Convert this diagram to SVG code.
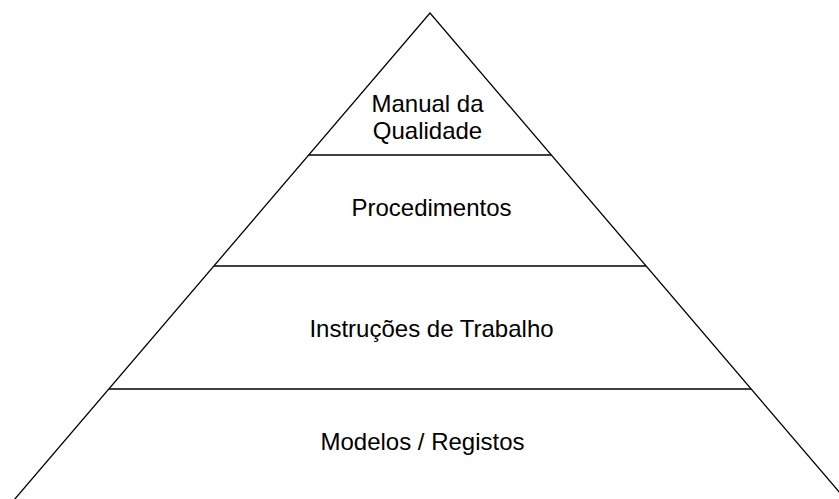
<svg xmlns="http://www.w3.org/2000/svg" width="839" height="499" viewBox="0 0 839 499">
<style>
.ln{stroke:#000;stroke-width:1.3;fill:none}
.t{font-family:"Liberation Sans",Arial,sans-serif;font-size:24px;fill:#000;text-anchor:middle}
</style>
<rect width="839" height="499" fill="#fff"/>
<g id="connectors">
<polyline class="ln" points="14,500 430,13 846,500"/>
<line class="ln" x1="309" y1="155" x2="551" y2="155"/>
<line class="ln" x1="214" y1="266" x2="646" y2="266"/>
<line class="ln" x1="109" y1="389" x2="751" y2="389"/>
</g>
<g id="manual"><text class="t" x="427.5" y="112">Manual da</text><text class="t" x="427.5" y="138.5">Qualidade</text></g>
<g id="procedimentos"><text class="t" x="431.5" y="216">Procedimentos</text></g>
<g id="instrucoes"><text class="t" x="431.5" y="337">Instruções de Trabalho</text></g>
<g id="modelos"><text class="t" x="422.5" y="449.5">Modelos / Registos</text></g>
</svg>
